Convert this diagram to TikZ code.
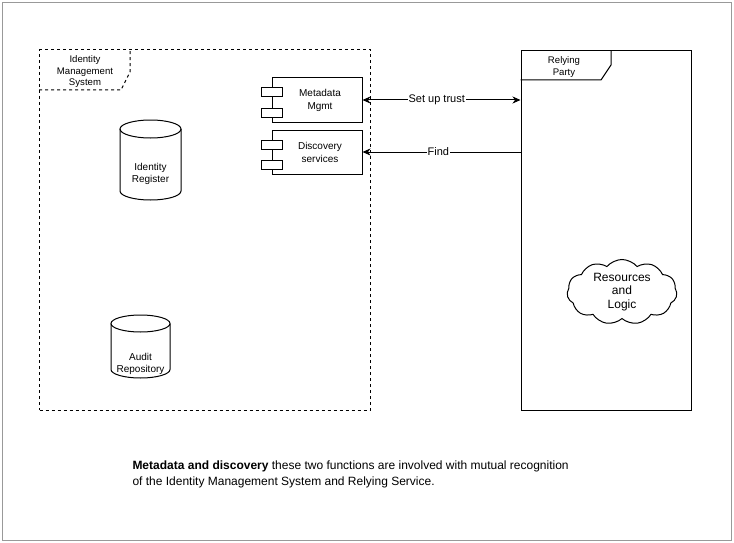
\documentclass[tikz,border=0pt]{standalone}
\usepackage{fontspec}
\setmainfont{Liberation Sans}
\usepackage{tikz}
\usetikzlibrary{arrows.meta,shapes.symbols,calc}

\begin{document}
\begin{tikzpicture}[x=1pt, y=-1pt, >={Stealth[length=8pt, width=7pt, inset=2.5pt]}, line width=1pt,
    frame/.style={draw, minimum width=170pt, minimum height=359pt, inner sep=0pt},
    comp/.style={draw, fill=white, minimum width=90pt, minimum height=44pt, align=center,
        font=\fontsize{10}{13}\selectfont},
    port/.style={draw, fill=white, minimum width=21pt, minimum height=9pt, inner sep=0pt},
    dbtext/.style={align=center, font=\fontsize{10}{12.5}\selectfont},
    tablabel/.style={align=center, font=\fontsize{9.6}{11.5}\selectfont},
    lbl/.style={fill=white, inner sep=1pt, font=\fontsize{11}{13}\selectfont}]
                \useasboundingbox (0,0) rectangle (734,543);
                \draw[gray!80, line width=0.8pt] (2,2) rectangle (731,540);

                % Identity Management System frame
                \node[frame, dashed, dash pattern=on 3pt off 3pt, minimum width=331pt, minimum height=360pt] (ims) at (205,230) {};
                \draw[dash pattern=on 3pt off 3pt] (ims.west |- 0,90) -- (121,90) -- (130,72) -- (130,0 |- ims.north);
                \node[tablabel] (imslabel) at (85,72) {Identity\\Management\\System};

                % Relying Party frame
                \node[frame] (rp) at (606,230.5) {};
                \draw (rp.west |- 0,80) -- (601,80) -- (611,65) -- (611,0 |- rp.north);
                \node[tablabel] (rplabel) at (564,67) {Relying\\Party};

                % components
                \node[comp] (meta) at (317,100) {\hspace{6pt}Metadata\\\hspace{6pt}Mgmt};
                \node[comp] (disc) at (317,152) {\hspace{6pt}Discovery\\\hspace{6pt}services};
                \foreach \c in {meta,disc} {
                    \node[port] (\c-a) at ($(\c.west)+(0,-7.5)$) {};
                    \node[port] (\c-b) at ($(\c.west)+(0,13)$) {};
                }

                % data stores
                \draw (120,129) -- (120,191) arc[start angle=180, end angle=0, x radius=30.5, y radius=9] -- (181,129);
                \draw (150.5,129) ellipse (30.5 and 9);
                \node[dbtext] (idreg) at (150.5,174) {Identity\\Register};

                \draw (111,323.5) -- (111,369.5) arc[start angle=180, end angle=0, x radius=29.5, y radius=8.5] -- (170,323.5);
                \draw (140.5,323.5) ellipse (29.5 and 8.5);
                \node[dbtext] (audit) at (140.5,364) {Audit\\Repository};

                % resources
                \node[cloud, draw, cloud puffs=11, cloud puff arc=100, aspect=1.8, minimum width=110pt, minimum height=65pt,
                    inner sep=0pt, align=center, font=\fontsize{12}{13.5}\selectfont] (res) at (622,292) {Resources\\and\\Logic};

                % connectors
                \draw[<->] (meta.east) -- (meta.east -| rp.west) node[lbl, pos=0.47] {Set up trust};
                \draw[->] (disc.east -| rp.west) -- (disc.east) node[lbl, pos=0.52] {Find};

                % caption
                \node[anchor=north west, align=left, inner sep=0pt, font=\fontsize{12}{16}\selectfont] (caption) at (132,460)
                    {\textbf{Metadata and discovery} these two functions are involved with mutual recognition\\
                     of the Identity Management System and Relying Service.};
            \end{tikzpicture}
\end{document}
